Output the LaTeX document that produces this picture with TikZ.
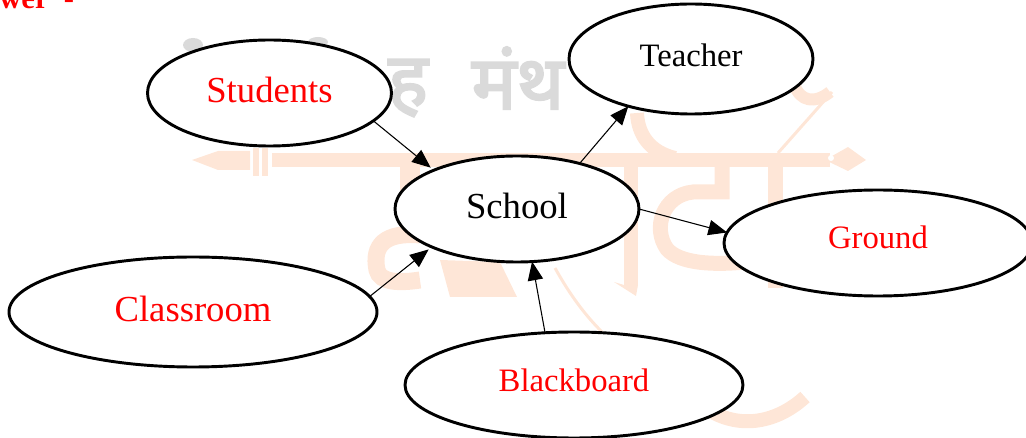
\documentclass[tikz,border=0pt]{standalone}
\usepackage{fontspec}
\setmainfont{Liberation Serif}
\newfontfamily\markfont[Script=Devanagari,FakeBold=3]{Noto Sans}
\usetikzlibrary{arrows.meta,shapes.geometric}
\definecolor{markorange}{RGB}{254,230,215}
\definecolor{markgrey}{RGB}{218,218,218}
\tikzset{
  bubble/.style={draw=black,line width=2.2pt,fill=white,ellipse,inner sep=0pt,outer sep=0pt,minimum width=#1*0.75pt,text depth=5.5pt},
  bubble/.default=244,
  big/.style={font=\fontsize{27.5}{30}\selectfont},
  small/.style={font=\fontsize{24.5}{28}\selectfont},
  link/.style={line width=0.8pt,-{Triangle[length=14pt,width=11.5pt]}},
  stroke/.style={markorange,line width=#1*0.75pt},
}
\begin{document}
\begin{tikzpicture}[x=0.75pt,y=-0.75pt]
\clip (0,0) rectangle (1026,438);
% watermark
\fill[markorange] (272,153) rectangle (830,167);
\fill[markorange] (192,160) -- (218,151) -- (250,151) -- (250,170) -- (218,170) -- cycle;
\fill[markorange] (253,148) rectangle (259,176);
\fill[markorange] (262,148) rectangle (268,176);
\fill[markorange] (825,160) -- (848,147) -- (866,160) -- (848,171) -- cycle;
\fill[white] (831,158) circle (3);
\draw[stroke=14] (631,160) -- (631,285);
\fill[markorange] (624,285) -- (638,285) -- (636,296) -- (614,282) -- cycle;
\draw[stroke=14] (637,113) .. controls (638,135) and (650,152) .. (675,158);
\draw[stroke=15] (722,165) -- (722,192) -- (693,192) .. controls (663,195) and (652,228) .. (667,249) .. controls (680,264) and (715,265) .. (745,262);
\draw[stroke=15] (775,165) -- (775,288);
\draw[stroke=3] (778,153) -- (832,92);
\draw[stroke=12] (794,84) .. controls (800,102) and (815,104) .. (830,92);
\fill[markorange] (400,167) rectangle (420,200);
\draw[stroke=17] (420,235) .. controls (385,232) and (372,245) .. (377,270) .. controls (380,283) and (400,283) .. (420,280);
\fill[markorange] (440,260) -- (500,262) -- (517,297) -- (450,297) -- cycle;
\draw[stroke=3] (555,268) .. controls (570,295) and (585,315) .. (602,332);
\draw[stroke=14] (712,412) .. controls (745,430) and (780,420) .. (805,397);
\fill[markgrey] (193,45) ellipse (10 and 7);
\fill[markgrey] (318,42) ellipse (10 and 5);
\node[text=markgrey,font=\markfont\fontsize{56}{60}\selectfont] (markone) at (408,88) {ह};
\node[text=markgrey,font=\markfont\fontsize{56}{60}\selectfont] (marktwo) at (518,78) {मंथ};
% answer line
\node[text=red,anchor=base west,inner sep=0pt,font=\bfseries\fontsize{23}{26}\selectfont] (answer) at (-1,9) {wer\ \ -};
% bubbles
\node[bubble=244,minimum height=106*0.75pt,big,text=red] (students) at (269.5,93) {Students};
\node[bubble=244,minimum height=110*0.75pt,small] (teacher) at (691,59) {Teacher};
\node[bubble=244,minimum height=106*0.75pt,big] (school) at (517,209) {School};
\node[bubble=308,minimum height=106*0.75pt,small,text=red,text depth=8pt] (ground) at (878,243) {Ground};
\node[bubble=368,minimum height=110*0.75pt,big,text=red] (classroom) at (193,312) {Classroom};
\node[bubble=338,minimum height=106*0.75pt,small,text=red,text depth=7.5pt] (blackboard) at (574,385) {Blackboard};
% links
\draw[link,shorten >=3pt] (students.-15) -- (school.155);
\draw[link] (school.36) -- (teacher.217);
\draw[link] (school.0) -- (ground.176);
\draw[link,shorten >=3pt] (classroom.5) -- (school.204);
\draw[link] (blackboard.119) -- (school.286);
\end{tikzpicture}
\end{document}
